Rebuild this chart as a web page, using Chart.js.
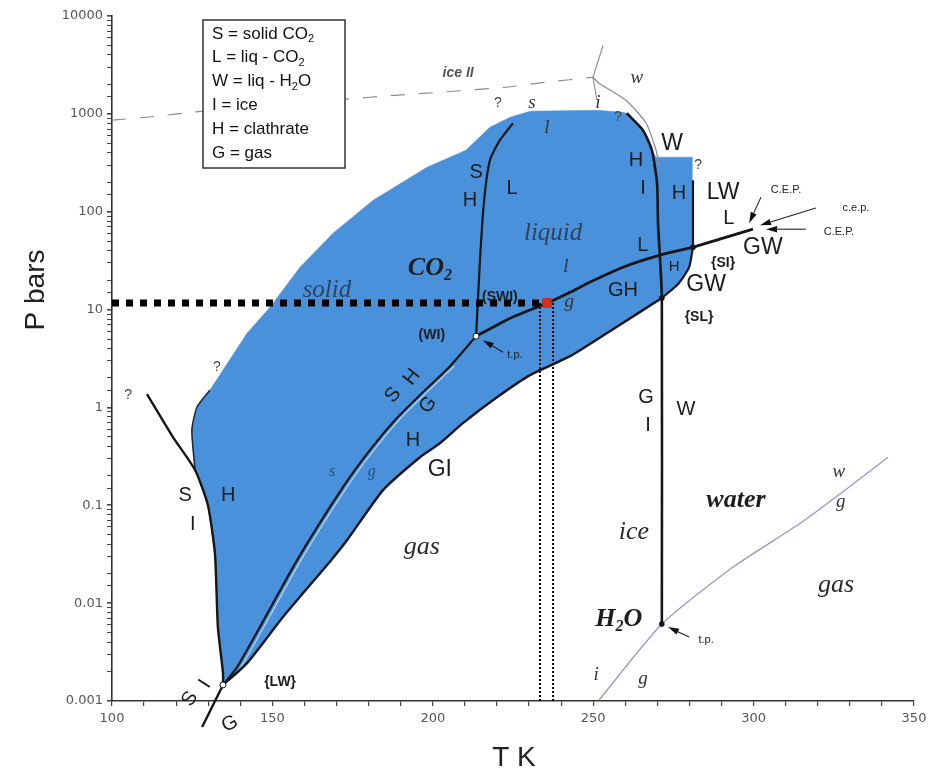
<!DOCTYPE html>
<html>
<head>
<meta charset="utf-8">
<script src="https://cdn.jsdelivr.net/npm/chart.js@4.4.1/dist/chart.umd.min.js"></script>
<style>
  html, body { margin: 0; padding: 0; background: #fff; }
</style>
</head>
<body>
<canvas id="phaseChart" width="932" height="774"></canvas>
<script>
// T in K, P in bar

// clathrate (H) stability field, outline
const hydrateT = [134.6, 134.6, 133.0, 132.1, 129.9, 125.9, 124.9, 126.5, 130.5, 134.6, 142.1, 149.3, 158.6, 168.9, 181.4, 198.2, 210.3, 217.8, 224.1, 230.3, 251.2, 259.0, 260.5, 265.5, 268.3, 269.6, 280.8, 280.8, 279.9, 276.7, 271.4, 255.2, 242.8, 230.3, 220.0, 209.4, 202.2, 196.0, 184.5, 173.3, 168.3, 153.3, 142.1, 134.6];
const hydrateP = [0.00146, 0.00193, 0.0057, 0.0318, 0.100, 0.229, 0.586, 1.01, 1.50, 2.41, 5.74, 10.6, 27.1, 60.4, 131, 285, 425, 730, 924, 1064, 1089, 1040, 1014, 681, 425, 361, 361, 42.4, 27.1, 18.6, 13.1, 6.02, 3.34, 2.14, 1.27, 0.692, 0.431, 0.310, 0.143, 0.0442, 0.0275, 0.00721, 0.00244, 0.00146];

// S-I / H boundary on the cold side
const siEdgeT = [110.9, 119.0, 125.9, 129.9, 132.1, 133.0, 134.6, 134.6];
const siEdgeP = [1.37, 0.498, 0.229, 0.100, 0.0318, 0.0057, 0.00193, 0.00146];
const siCapT = [125.9, 124.9, 126.5, 130.5];
const siCapP = [0.229, 0.586, 1.01, 1.50];
const sigTailT = [134.6, 128.1];
const sigTailP = [0.00146, 0.000542];

// CO2 sublimation (s/g) and boiling (l/g) curves
const sgT = [134.6, 139.0, 146.1, 157.7, 172.0, 180.4, 188.8, 196.9, 205.4, 213.5];
const sgP = [0.00146, 0.00222, 0.0057, 0.0275, 0.153, 0.366, 0.778, 1.43, 2.64, 5.35];
const sgGhostT = [135.3, 140.2, 147.3, 158.9, 173.2, 181.6, 190.0, 198.1, 206.6];
const sgGhostP = [0.00146, 0.00222, 0.0057, 0.0275, 0.153, 0.366, 0.778, 1.43, 2.64];
const lgT = [213.5, 224.1, 232.5, 235.6, 242.8, 249.0, 259.3, 270.8, 281.1, 290.5, 299.8];
const lgP = [5.35, 8.17, 10.6, 11.6, 15.0, 19.1, 27.1, 36.0, 43.4, 53.7, 66.3];

// H decomposition to G + I
const giT = [134.6, 142.1, 153.3, 168.3, 173.3, 184.5, 196.0, 202.2, 209.4, 220.0, 230.3, 242.8, 255.2, 271.4];
const giP = [0.00146, 0.00244, 0.00721, 0.0275, 0.0442, 0.143, 0.310, 0.431, 0.692, 1.27, 2.14, 3.34, 6.02, 13.1];

// H + W + G above the ice point, and the H | LW edge
const slCurveT = [271.4, 276.7, 279.9, 281.1];
const slCurveP = [13.1, 18.6, 27.1, 43.4];
const lwEdgeT = [281.1, 281.1];
const lwEdgeP = [210, 43.4];

// H | I melting line down to the H2O triple point
const hiT = [260.5, 265.5, 268.3, 269.9, 270.2, 270.8, 271.4, 271.4];
const hiP = [1014, 681, 425, 195, 76.4, 34.3, 13.4, 0.00612];

// CO2 melting (S | L)
const slT = [213.5, 214.7, 216.0, 217.8, 220.9, 225.0];
const slP = [5.35, 32.0, 131, 336, 538, 802];

// pure H2O lines (grey)
const iceIIT = [100, 114.0, 125.2, 180.4, 202.2, 222.8, 235.3, 249.9];
const iceIIP = [861, 946, 1040, 1479, 1663, 1871, 2104, 2366];
const iceIIBranchT = [253.1, 249.9, 251.2];
const iceIIBranchP = [5023, 2366, 1377];
const waterMeltT = [249.9, 251.8, 260.2, 266.5, 269.6, 270.5];
const waterMeltP = [2366, 2056, 1377, 802, 425, 299];
const waterGasT = [251.8, 271.4, 293.6, 314.2, 329.7, 341.9];
const waterGasP = [0.00102, 0.00612, 0.0234, 0.0643, 0.153, 0.310];

// reading guide at the red point
const guideT = 235.6;
const guideP = 11.7;
const guideLeftT = [100, 233.4];
const guideDropT = [233.4, 237.5];
const floorP = 0.001;

// special points
const openPtT = [134.6, 213.5];
const openPtP = [0.00146, 5.35];
const nodeT = [281.1, 271.4, 271.4];
const nodeP = [43.4, 13.1, 0.00612];

// axis ticks
const tempTicks = [100, 150, 200, 250, 300, 350];
const presTicks = [0.001, 0.01, 0.1, 1, 10, 100, 1000, 10000];

// arrows: tail T, tail P, head T, head P
const arrows = [
  [221.9, 3.67, 215.6, 4.87],
  [302.3, 141, 298.6, 76.4],
  [319.4, 109, 302.0, 72.8],
  [316.3, 66.3, 303.9, 66.3],
  [279.9, 0.00451, 273.3, 0.0057]
];

// text on the diagram: text, T, P, style, rotation
const notes = [
  ['S', 213.5, 253, 'cap'], ['L', 224.7, 174, 'cap'], ['H', 211.6, 131, 'cap'],
  ['H', 263.3, 336, 'cap'], ['I', 265.5, 174, 'cap'], ['W', 274.6, 501, 'big'],
  ['H', 276.7, 155, 'cap'], ['LW', 290.5, 155, 'big'], ['L', 292.3, 85.9, 'cap'],
  ['GW', 302.9, 43.4, 'big'], ['{SI}', 290.5, 29.8, 'brace'], ['GW', 285.2, 17.8, 'big'],
  ['{SL}', 283.0, 8.37, 'brace'], ['H', 275.2, 27.1, 'capS'], ['L', 265.5, 45.5, 'cap'],
  ['GH', 259.3, 15.8, 'cap'], ['(WI)', 199.7, 5.48, 'brace'], ['(SWI)', 220.9, 13.4, 'brace'],
  ['S', 122.8, 0.127, 'cap'], ['H', 136.2, 0.127, 'cap'], ['I', 125.2, 0.0643, 'cap'],
  ['S', 187.6, 1.34, 'cap', -0.9], ['H', 193.5, 2.04, 'cap', -0.9], ['G', 198.5, 1.06, 'cap', -0.9],
  ['H', 193.8, 0.463, 'cap'], ['GI', 202.2, 0.229, 'big'],
  ['s', 168.6, 0.218, 'inBlue'], ['g', 181.0, 0.218, 'inBlue'],
  ['gas', 196.6, 0.0374, 'phase'], ['{LW}', 152.4, 0.00156, 'brace'],
  ['S', 124.3, 0.00105, 'cap', -1.0], ['I', 129.0, 0.00149, 'cap', -1.0], ['G', 136.8, 0.000582, 'cap', -0.5],
  ['G', 266.5, 1.27, 'cap'], ['W', 278.9, 0.962, 'cap'], ['I', 267.1, 0.659, 'cap'],
  ['C.E.P.', 310.1, 166, 'tiny'], ['c.e.p.', 331.9, 109, 'tiny'], ['C.E.P.', 326.6, 61.8, 'tiny'],
  ['t.p.', 225.6, 3.42, 'tiny'], ['t.p.', 285.2, 0.0042, 'tiny'],
  ['?', 220.3, 1285, 'q'], ['s', 230.9, 1285, 'small'], ['i', 251.5, 1285, 'small'],
  ['w', 263.6, 2312, 'small'], ['l', 235.6, 713, 'small'], ['?', 257.7, 924, 'q'], ['?', 282.7, 299, 'q'],
  ['ice II', 207.9, 2600, 'ice2'],
  ['liquid', 237.5, 60.4, 'faded'], ['l', 241.5, 27.1, 'small'], ['g', 242.5, 11.9, 'small'],
  ['CO₂', 199.1, 26.5, 'phaseB'], ['solid', 167.0, 15.8, 'faded'],
  ['?', 132.7, 2.58, 'q'], ['?', 105.0, 1.34, 'q'],
  ['ice', 262.7, 0.0532, 'phase'], ['water', 294.5, 0.113, 'phaseB'],
  ['w', 326.6, 0.218, 'small'], ['g', 327.2, 0.108, 'small'],
  ['gas', 325.7, 0.0153, 'phase'], ['H₂O', 258.0, 0.00689, 'phaseB'],
  ['i', 250.9, 0.00185, 'small'], ['g', 265.5, 0.00168, 'small']
];

const legendLines = ['S = solid CO₂', 'L = liq - CO₂', 'W = liq - H₂O', 'I = ice', 'H = clathrate', 'G = gas'];

const styles = {
  cap:    { font: '20px "Liberation Sans"', color: '#1c1c1c' },
  capS:   { font: '15px "Liberation Sans"', color: '#1c1c1c' },
  big:    { font: '23px "Liberation Sans"', color: '#1c1c1c' },
  brace:  { font: 'bold 14px "Liberation Sans"', color: '#1c1c1c' },
  tiny:   { font: '11px "Liberation Sans"', color: '#222' },
  q:      { font: '14px "Liberation Sans"', color: '#444' },
  ice2:   { font: 'italic bold 14px "Liberation Sans"', color: '#555' },
  phase:  { font: 'italic 26px "Liberation Serif"', color: '#2a2a2a' },
  phaseB: { font: 'italic bold 26px "Liberation Serif"', color: '#1e1e1e' },
  faded:  { font: 'italic 25px "Liberation Serif"', color: '#2c4260' },
  small:  { font: 'italic 19px "Liberation Serif"', color: '#333' },
  inBlue: { font: 'italic 16px "Liberation Serif"', color: '#2f4f75' }
};

const BLUE = '#4a91db';
const INK = '#161616';
const GREY = '#8c8c8c';
const LAVENDER = '#9d94c8';

const pts = (ts, ps) => ts.map((t, i) => ({ x: t, y: ps[i] }));
const curve = (ts, ps, color, width, extra) => Object.assign({
  data: pts(ts, ps), showLine: true, borderColor: color, borderWidth: width,
  pointRadius: 0, tension: 0.2, fill: false, clip: false
}, extra || {});

// draws text where '₂' becomes a lowered small 2
function drawRich(ctx, text, x, y, font, align) {
  const size = parseFloat(font.match(/(\d+(\.\d+)?)px/)[1]);
  const parts = [];
  for (const ch of text) {
    const sub = ch === '₂';
    const last = parts[parts.length - 1];
    const c = sub ? '2' : ch;
    if (last && last.sub === sub) last.s += c;
    else parts.push({ sub, s: c });
  }
  const fontFor = sub => sub ? font.replace(/\d+(\.\d+)?px/, Math.round(size * 0.62) + 'px') : font;
  let total = 0;
  parts.forEach(p => { ctx.font = fontFor(p.sub); p.w = ctx.measureText(p.s).width; total += p.w; });
  let cx = align === 'left' ? x : x - total / 2;
  ctx.textAlign = 'left';
  parts.forEach(p => {
    ctx.font = fontFor(p.sub);
    ctx.fillText(p.s, cx, p.sub ? y + size * 0.3 : y);
    cx += p.w;
  });
}

function drawArrow(ctx, x0, y0, x1, y1) {
  const a = Math.atan2(y1 - y0, x1 - x0);
  const len = 11, half = 3.2;
  const bx = x1 - len * Math.cos(a), by = y1 - len * Math.sin(a);
  ctx.strokeStyle = '#222';
  ctx.lineWidth = 1.1;
  ctx.beginPath();
  ctx.moveTo(x0, y0);
  ctx.lineTo(bx, by);
  ctx.stroke();
  ctx.fillStyle = '#111';
  ctx.beginPath();
  ctx.moveTo(x1, y1);
  ctx.lineTo(bx + half * Math.sin(a), by - half * Math.cos(a));
  ctx.lineTo(bx - half * Math.sin(a), by + half * Math.cos(a));
  ctx.closePath();
  ctx.fill();
}

const isDecade = v => Math.abs(Math.log10(v) - Math.round(Math.log10(v))) < 1e-6;

const overlay = {
  id: 'overlay',
  afterDatasetsDraw(chart) {
    const { ctx, scales: { x, y } } = chart;
    const px = t => x.getPixelForValue(t);
    const py = p => y.getPixelForValue(p);
    ctx.save();

    arrows.forEach(([t0, p0, t1, p1]) => drawArrow(ctx, px(t0), py(p0), px(t1), py(p1)));

    ctx.textBaseline = 'middle';
    notes.forEach(([text, t, p, key, rot]) => {
      const st = styles[key];
      ctx.fillStyle = st.color;
      ctx.save();
      ctx.translate(px(t), py(p));
      if (rot) ctx.rotate(rot);
      drawRich(ctx, text, 0, 0, st.font, 'center');
      ctx.restore();
    });

    // key box
    ctx.fillStyle = '#fff';
    ctx.fillRect(203, 20, 142, 148);
    ctx.strokeStyle = '#333';
    ctx.lineWidth = 1.5;
    ctx.strokeRect(203, 20, 142, 148);
    ctx.fillStyle = '#111';
    legendLines.forEach((line, i) => {
      drawRich(ctx, line, 212, 34 + i * 23.8, '17px "Liberation Sans"', 'left');
    });

    // axis titles
    ctx.fillStyle = '#222';
    ctx.save();
    ctx.translate(36, 290);
    ctx.rotate(-Math.PI / 2);
    drawRich(ctx, 'P bars', 0, 0, '28px "Liberation Sans"', 'center');
    ctx.restore();
    drawRich(ctx, 'T K', 514, 758, '28px "Liberation Sans"', 'center');

    ctx.restore();
  }
};

new Chart(document.getElementById('phaseChart'), {
  type: 'scatter',
  data: {
    datasets: [
      { data: [{ x: guideT, y: guideP }], pointStyle: 'rect', pointRadius: 6, backgroundColor: '#d8301e', borderColor: '#c02010', borderWidth: 1, clip: false },
      { data: pts(openPtT, openPtP), pointRadius: 3, backgroundColor: '#fff', borderColor: INK, borderWidth: 1, clip: false },
      { data: pts(nodeT, nodeP), pointRadius: 2.8, backgroundColor: INK, borderColor: INK, borderWidth: 0, clip: false },
      curve(guideLeftT, [guideP, guideP], '#000', 7, { borderDash: [7, 7], tension: 0 }),
      curve([guideDropT[0], guideDropT[0]], [guideP, floorP], '#000', 2, { borderDash: [2, 2], tension: 0 }),
      curve([guideDropT[1], guideDropT[1]], [guideP, floorP], '#000', 2, { borderDash: [2, 2], tension: 0 }),
      curve(siEdgeT, siEdgeP, INK, 2.4),
      curve(siCapT, siCapP, '#1a2a40', 1.6),
      curve(sigTailT, sigTailP, INK, 2.4, { tension: 0 }),
      curve(sgT, sgP, INK, 2.2),
      curve(lgT, lgP, INK, 2.8),
      curve(giT, giP, INK, 2.4),
      curve(slCurveT, slCurveP, INK, 2.2),
      curve(lwEdgeT, lwEdgeP, INK, 2.2, { tension: 0 }),
      curve(hiT, hiP, INK, 2.6),
      curve(slT, slP, INK, 2.2),
      curve(iceIIT, iceIIP, GREY, 1.2, { borderDash: [14, 14] }),
      curve(iceIIBranchT, iceIIBranchP, GREY, 1.1, { tension: 0 }),
      curve(waterMeltT, waterMeltP, '#8f8aa8', 1.3),
      curve(waterGasT, waterGasP, LAVENDER, 1.3),
      curve(sgGhostT, sgGhostP, 'rgba(255,255,255,0.55)', 1.4, { order: 8 }),
      { data: pts(hydrateT, hydrateP), showLine: true, fill: 'shape', backgroundColor: BLUE, borderColor: BLUE, borderWidth: 0.5, pointRadius: 0, tension: 0, order: 9 }
    ]
  },
  options: {
    responsive: false,
    animation: false,
    devicePixelRatio: 1,
    events: [],
    layout: { padding: { left: 0, right: 18, top: 16, bottom: 0 } },
    plugins: { legend: { display: false }, tooltip: { enabled: false } },
    scales: {
      x: {
        type: 'linear', min: 100, max: 350,
        afterFit: s => { s.height = 73; },
        ticks: {
          stepSize: 10, autoSkip: false, maxRotation: 0, padding: 5,
          color: '#555', font: { family: 'DejaVu Sans', size: 13 },
          callback: v => tempTicks.includes(v) ? String(v) : ''
        },
        grid: { drawOnChartArea: false, tickLength: 5, color: '#444', lineWidth: 1.2 },
        border: { color: '#333', width: 1.6 }
      },
      y: {
        type: 'logarithmic', min: 0.001, max: 10000,
        afterFit: s => { s.width = 112; },
        ticks: {
          autoSkip: false, padding: 4,
          color: '#555', font: { family: 'DejaVu Sans', size: 13 },
          callback: v => isDecade(v) && presTicks.some(p => Math.abs(p / v - 1) < 1e-6) ? String(Number(v.toPrecision(1))) : ''
        },
        grid: {
          drawOnChartArea: false, tickLength: 5, color: '#444',
          lineWidth: c => c.tick && isDecade(c.tick.value) ? 1.6 : 1
        },
        border: { color: '#333', width: 1.6 }
      }
    }
  },
  plugins: [overlay]
});
</script>
</body>
</html>
